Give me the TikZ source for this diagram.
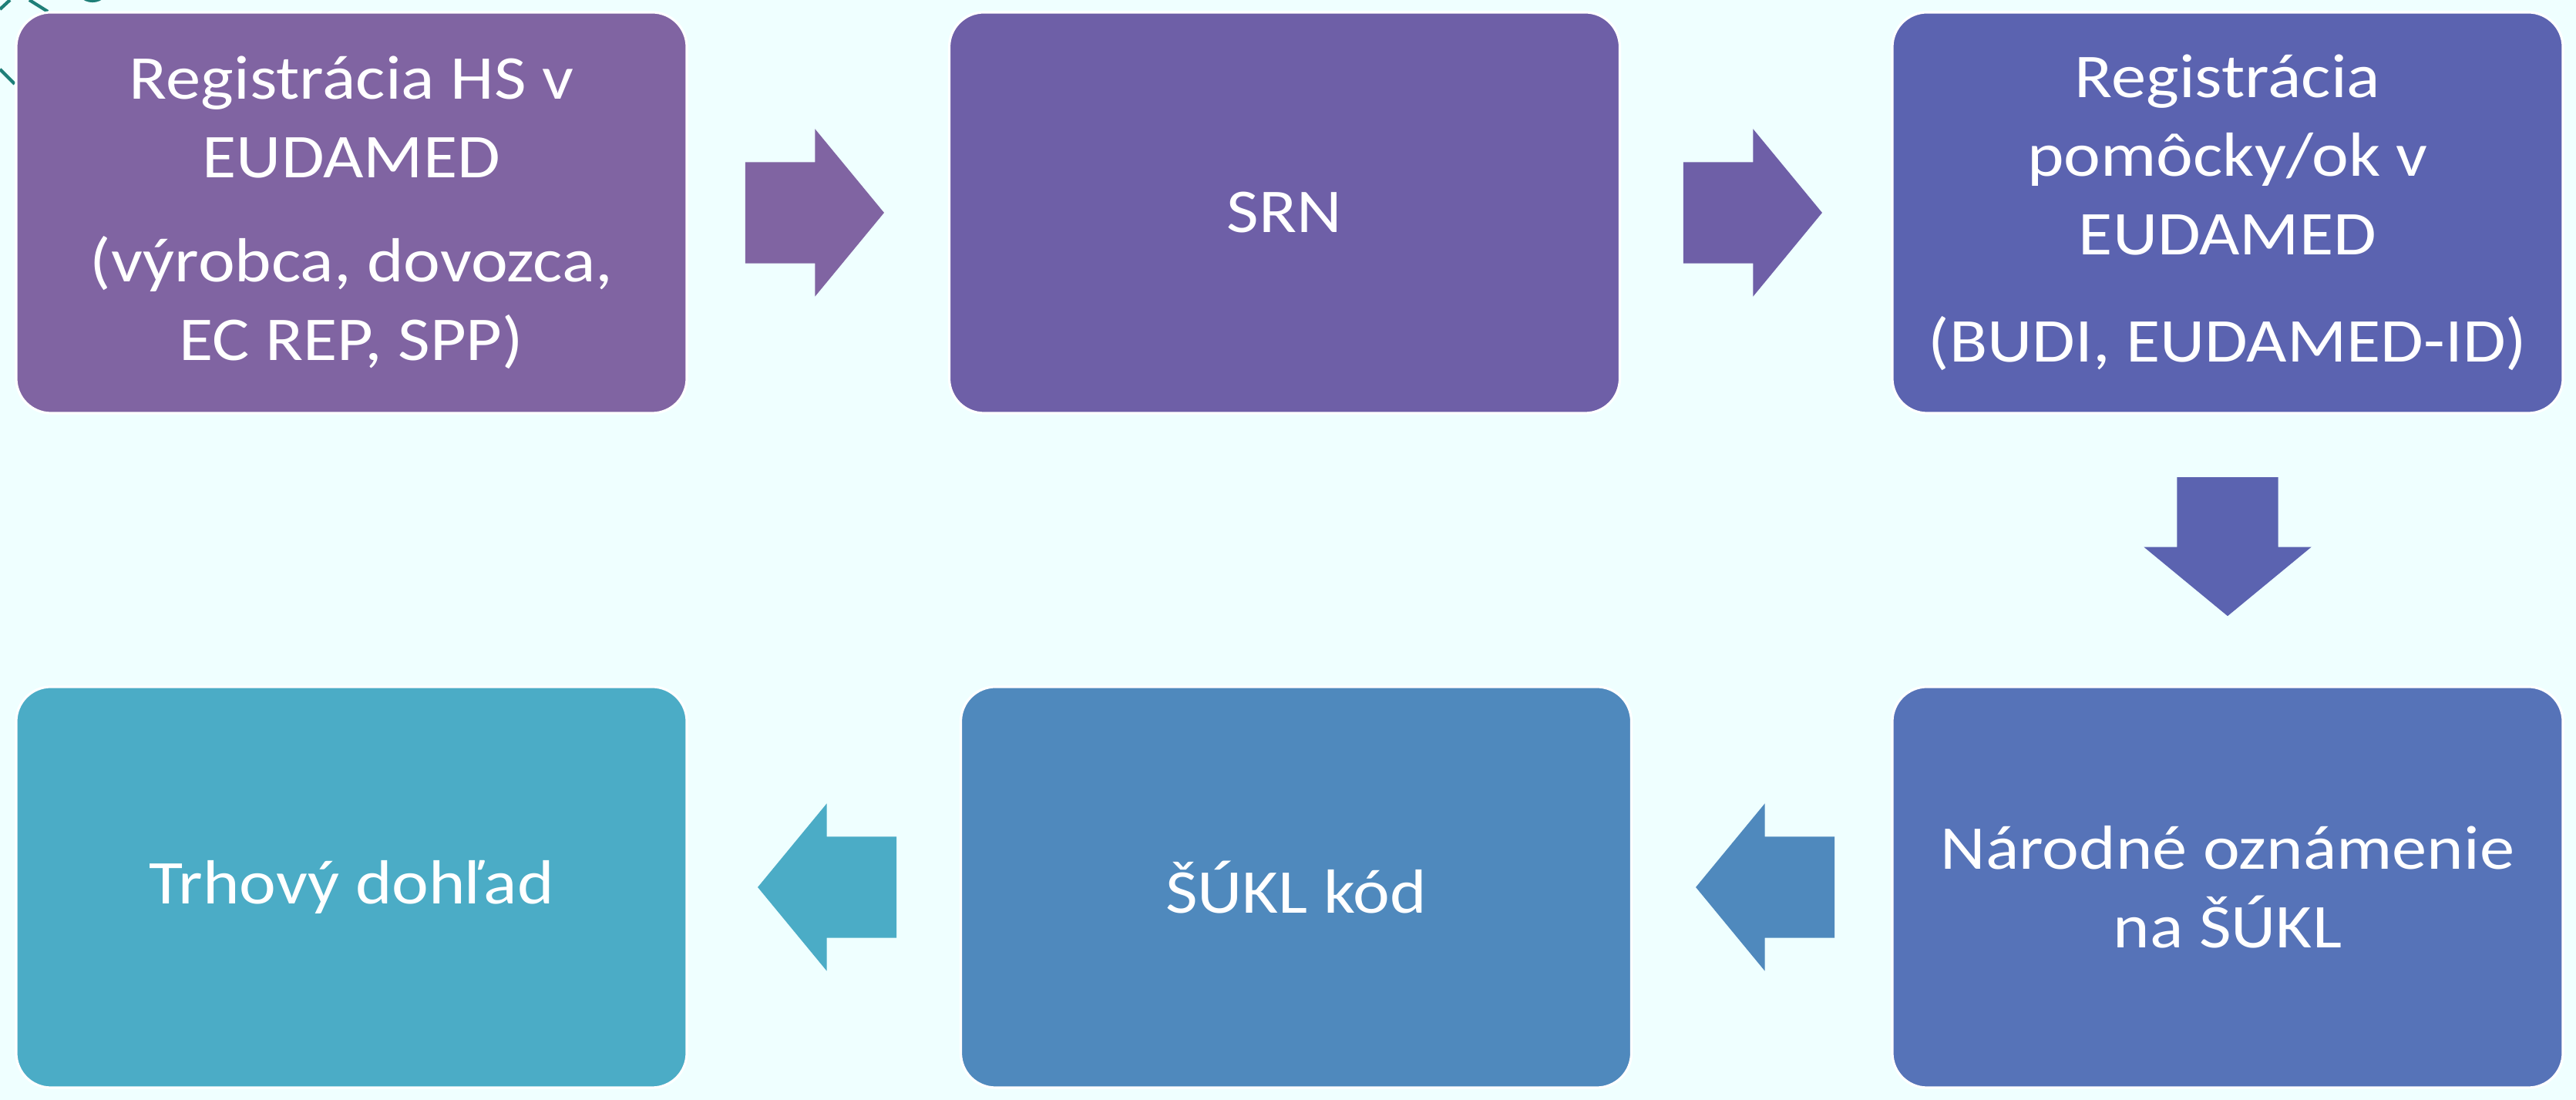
\documentclass[tikz,border=0pt]{standalone}
\usepackage{fontspec}
\setmainfont{Carlito}[FakeStretch=1.12]
\usetikzlibrary{shapes.arrows,calc}
\definecolor{col_bg}{HTML}{EFFFFF}
\definecolor{col_deco}{HTML}{1E7F78}
\definecolor{col_a}{HTML}{8064A2}
\definecolor{col_b}{HTML}{6E5FA7}
\definecolor{col_c}{HTML}{5B63B0}
\definecolor{col_d}{HTML}{5673B8}
\definecolor{col_e}{HTML}{4F89BD}
\definecolor{col_f}{HTML}{4BACC6}
\tikzstyle{node_box} = [rectangle, rounded corners=0.45cm, draw=white, line width=0.9pt, minimum width=8.7cm, minimum height=5.2cm, inner sep=0pt, align=center, text=white, font=\fontsize{23}{29}\selectfont]
\tikzstyle{edge_block} = [single arrow, single arrow head extend=0.43cm, single arrow tip angle=101, minimum height=1.8cm, inner xsep=0pt, inner ysep=0.65cm, anchor=tail]
\tikzstyle{edge_block_down} = [edge_block, shape border rotate=270, inner xsep=0.65cm, inner ysep=0pt]
\tikzstyle{deco_line} = [col_deco, line width=1.2pt]

\begin{document}
\begin{tikzpicture}
\fill[col_bg] (0,0) rectangle (33.42,14.27);
\useasboundingbox (0,0) rectangle (33.42,14.27);

\draw[deco_line] (0,14.15) -- (0.13,14.27);
\draw[deco_line] (0.38,14.27) -- (0.62,14.12);
\draw[deco_line] (1.2,14.47) circle (0.21);
\draw[deco_line] (0,13.37) -- (0.19,13.18);

\node (reg) at (4.56,11.51) [node_box, fill=col_a] {Registrácia HS v\\EUDAMED\\[9.5pt](výrobca, dovozca,\\EC REP, SPP)};
\node (srn) at (16.665,11.51) [node_box, fill=col_b] {SRN};
\node (dev) at (28.90,11.51) [node_box, fill=col_c] {Registrácia\\pomôcky/ok v\\EUDAMED\\[10.5pt](BUDI, EUDAMED-ID)};
\node (nat) at (28.90,2.76) [node_box, fill=col_d] {Národné oznámenie\\na ŠÚKL};
\node (sukl) at (16.815,2.76) [node_box, fill=col_e] {ŠÚKL kód};
\node (trh) at (4.56,2.76) [node_box, fill=col_f] {Trhový dohľad};

\node (a1) at ($(reg.east)!0.5!(srn.west)+(-0.95,0)$) [edge_block, fill=col_a] {};
\node (a2) at ($(srn.east)!0.5!(dev.west)+(-0.95,0)$) [edge_block, fill=col_b] {};
\node (a3) at ($(dev.south)!0.5!(nat.north)+(0,0.95)$) [edge_block_down, fill=col_c] {};
\node (a4) at ($(nat.west)!0.5!(sukl.east)+(0.95,0)$) [edge_block, fill=col_e, shape border rotate=180] {};
\node (a5) at ($(sukl.west)!0.5!(trh.east)+(0.95,0)$) [edge_block, fill=col_f, shape border rotate=180] {};
\end{tikzpicture}
\end{document}
